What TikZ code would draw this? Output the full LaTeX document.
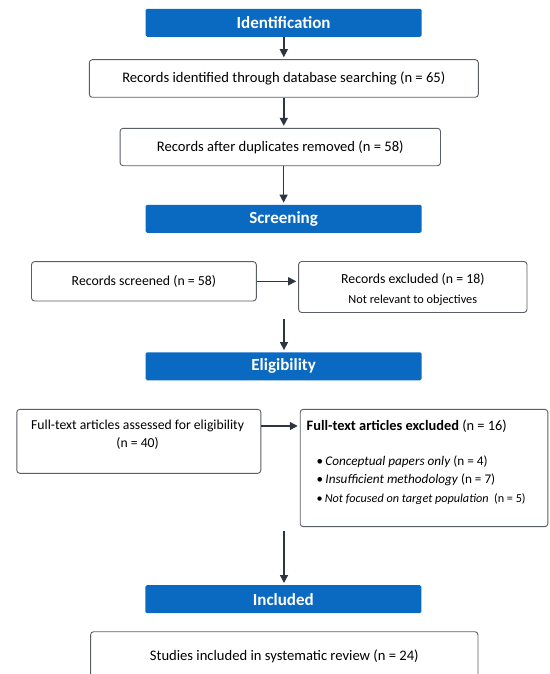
\documentclass[tikz,border=0pt]{standalone}
\usepackage{fontspec}
\setmainfont{Carlito}
\usetikzlibrary{arrows.meta}

\definecolor{stageblue}{HTML}{0A6AC2}
\definecolor{arrowgray}{HTML}{2E3440}
\definecolor{boxgray}{HTML}{5A5F66}

\tikzset{
	stage/.style={fill=stageblue, rounded corners=1.5pt, minimum width=276pt, minimum height=28pt, inner sep=0pt, text=white, font=\fontsize{17}{20}\selectfont\bfseries},
	recbox/.style={draw=boxgray, line width=0.9pt, rounded corners=3pt, fill=white, inner sep=0pt, font=\fontsize{14.6}{17}\selectfont},
	flow/.style={arrowgray, line width=1.4pt, shorten >=2pt, -{Triangle[length=8pt,width=8pt]}},
	smalltext/.style={inner sep=0pt, font=\fontsize{13.2}{15}\selectfont},
}

\begin{document}
\begin{tikzpicture}[x=1pt, y=-1pt]
			\useasboundingbox (0,0) rectangle (549,674);
			\fill[white] (0,0) rectangle (549,674);

			% Identification
			\node[stage] (ident) at (283.6,22.8) {Identification};
			\node[recbox, minimum width=389pt, minimum height=37.6pt] (found) at (283.8,78.5) {Records identified through database searching (n = 65)};
			\node[recbox, minimum width=320.4pt, minimum height=37.4pt] (dedup) at (280.3,147) {Records after duplicates removed (n = 58)};

			% Screening
			\node[stage] (screen) at (283.6,218.8) {Screening};
			\node[recbox, minimum width=224.8pt, minimum height=39.3pt, font=\fontsize{13.8}{16}\selectfont] (screened) at (143.9,281.3) {Records screened (n = 58)};
			\node[recbox, minimum width=228.3pt, minimum height=51pt] (dropA) at (412.8,287) {};
			\node[inner sep=0pt, font=\fontsize{13.8}{16}\selectfont] (dropAhead) at (412.8,279.3) {Records excluded (n = 18)};
			\node[inner sep=0pt, font=\fontsize{12.3}{14}\selectfont] (dropAnote) at (412.8,300) {Not relevant to objectives};
			\coordinate (gapA) at (284,319);

			% Eligibility
			\node[stage] (elig) at (283.6,366.3) {Eligibility};
			\node[recbox, minimum width=244pt, minimum height=64pt] (fulltext) at (138.8,441.3) {};
			\node[smalltext, font=\fontsize{13.7}{16}\selectfont] (fulltextA) at (137.6,426) {Full-text articles assessed for eligibility};
			\node[smalltext, font=\fontsize{13.7}{16}\selectfont] (fulltextB) at (137.6,443.3) {(n = 40)};
			\node[recbox, minimum width=247.6pt, minimum height=117.3pt] (dropB) at (424,468) {};
			\node[smalltext, anchor=west, font=\fontsize{14.4}{17}\selectfont] (dropBhead) at (306.5,426) {\textbf{Full-text articles excluded} (n = 16)};
			\node[smalltext, anchor=west] (reasonA) at (316.5,461.7) {\textbullet\,\textit{Conceptual papers only} (n = 4)};
			\node[smalltext, anchor=west] (reasonB) at (316.5,480) {\textbullet\,\textit{Insufficient methodology} (n = 7)};
			\node[smalltext, anchor=west, font=\fontsize{12.2}{14}\selectfont] (reasonC) at (316.5,499) {\textbullet\,\textit{Not focused on target population}\ \ (n = 5)};
			\coordinate (gapB) at (284,531);

			% Included
			\node[stage] (incl) at (283.3,599.2) {Included};
			\node[recbox, minimum width=387.3pt, minimum height=50pt] (studies) at (284.3,656.7) {Studies included in systematic review (n = 24)};

			% Arrows
			\draw[flow] (ident.south -| found) -- (found.north);
			\draw[flow] (found.south) -- (found.south |- dedup.north);
			\draw[flow] (dedup.south -| ident) -- (ident |- screen.north);
			\draw[flow] (screened.east) -- (screened.east -| dropA.west);
			\draw[flow] (gapA) -- (gapA |- elig.north);
			\draw[flow] (fulltext.east |- dropBhead) -- (dropB.west |- dropBhead);
			\draw[flow] (gapB) -- (gapB |- incl.north);
		\end{tikzpicture}
\end{document}
